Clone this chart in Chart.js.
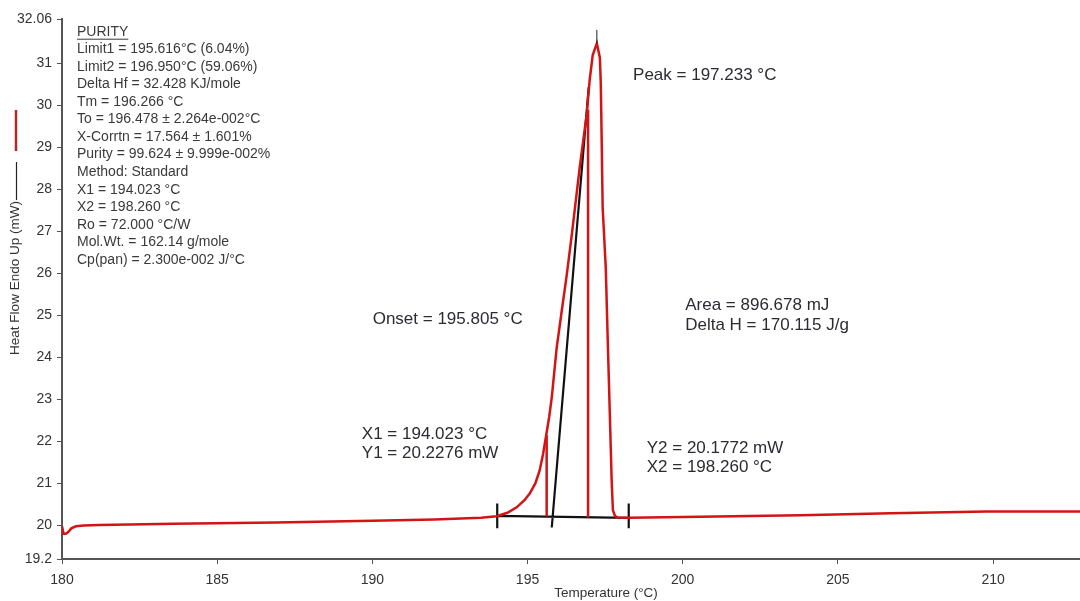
<!DOCTYPE html>
<html>
<head>
<meta charset="utf-8">
<script src="https://cdn.jsdelivr.net/npm/chart.js@4/dist/chart.umd.min.js"></script>
<style>
  html, body { margin: 0; padding: 0; background: #fff; }
  #wrap { width: 1080px; height: 601px; position: relative; }
</style>
</head>
<body>
<div id="wrap"><canvas id="dsc"></canvas></div>
<script>
// DSC melting curve, heat flow (mW) vs temperature (°C)
const temperature = [180.0, 180.05, 180.12, 180.2, 180.3, 180.45, 180.7, 181.2, 183.6, 186.9,
  190.0, 192.0, 193.5, 194.0, 194.35, 194.65, 194.9, 195.07, 195.25, 195.39,
  195.5, 195.59, 195.7, 195.78, 195.94, 196.1, 196.26, 196.43, 196.68, 196.91,
  197.0, 197.1, 197.233, 197.33, 197.36, 197.39, 197.42, 197.52, 197.59, 197.65,
  197.71, 197.75, 197.82, 197.9, 198.26, 200.0, 203.8, 206.7, 209.8, 212.8];
const heatFlow = [19.98, 19.80, 19.80, 19.84, 19.93, 19.98, 20.00, 20.01, 20.04, 20.07,
  20.11, 20.14, 20.18, 20.22, 20.30, 20.43, 20.60, 20.76, 21.00, 21.31,
  21.70, 22.10, 22.60, 23.05, 24.24, 25.10, 25.95, 26.95, 28.52, 29.81,
  30.60, 31.20, 31.48, 31.14, 30.52, 29.10, 27.57, 26.14, 24.24, 22.67,
  21.07, 20.36, 20.22, 20.19, 20.18, 20.20, 20.24, 20.29, 20.33, 20.33];

// integration limits and baseline
const x1 = 194.023, y1 = 20.2276;
const x2 = 198.260, y2 = 20.1772;
const onsetT = 195.805;
const peakT = 197.233;
const limitTemps = [195.616, 196.950];
const limitBase = [20.21, 20.19];
const limitTops = [22.15, 29.9];
const tangentX = [195.78, 196.97];
const tangentY = [19.95, 30.43];
const peakMarkY = [31.48, 31.8];

const xTicks = [180, 185, 190, 195, 200, 205, 210];
const yTicks = [19.2, 20, 21, 22, 23, 24, 25, 26, 27, 28, 29, 30, 31, 32.06];
const yTickLabels = ['19.2', '20', '21', '22', '23', '24', '25', '26', '27', '28', '29', '30', '31', '32.06'];

const purityLines = [
  'PURITY',
  'Limit1 = 195.616°C (6.04%)',
  'Limit2 = 196.950°C (59.06%)',
  'Delta Hf = 32.428 KJ/mole',
  'Tm = 196.266 °C',
  'To = 196.478 ± 2.264e-002°C',
  'X-Corrtn = 17.564 ± 1.601%',
  'Purity = 99.624 ± 9.999e-002%',
  'Method: Standard',
  'X1 = 194.023 °C',
  'X2 = 198.260 °C',
  'Ro = 72.000 °C/W',
  'Mol.Wt. = 162.14 g/mole',
  'Cp(pan) = 2.300e-002 J/°C'
];

// labels placed in data coordinates (left edge, middle)
const notes = [
  { text: 'Peak = 197.233 °C', x: 198.40, y: 30.73 },
  { text: 'Onset = 195.805 °C', x: 190.01, y: 24.90 },
  { text: 'Area = 896.678 mJ', x: 200.08, y: 25.24 },
  { text: 'Delta H = 170.115 J/g', x: 200.08, y: 24.76 },
  { text: 'X1 = 194.023 °C', x: 189.66, y: 22.17 },
  { text: 'Y1 = 20.2276 mW', x: 189.66, y: 21.71 },
  { text: 'Y2 = 20.1772 mW', x: 198.84, y: 21.83 },
  { text: 'X2 = 198.260 °C', x: 198.84, y: 21.38 }
];

const RED = '#d41414';
const FONT = "'Liberation Sans', Arial, sans-serif";

const gap = (x) => ({ x: x, y: null });

const curve = temperature.map((t, i) => ({ x: t, y: heatFlow[i] }));

const limitData = [];
limitTemps.forEach((t, i) => {
  limitData.push({ x: t, y: limitBase[i] }, { x: t, y: limitTops[i] }, gap(t));
});

const blackData = [
  { x: x1, y: y1 }, { x: x2, y: y2 }, gap(x2),
  { x: x1, y: 20.52 }, { x: x1, y: 19.93 }, gap(x1),
  { x: x2, y: 20.52 }, { x: x2, y: 19.93 }, gap(x2),
  { x: tangentX[0], y: tangentY[0] }, { x: tangentX[1], y: tangentY[1] }
];

const peakData = [{ x: peakT, y: peakMarkY[0] }, { x: peakT, y: peakMarkY[1] }];

const textPlugin = {
  id: 'dscText',
  afterDraw(chart) {
    const ctx = chart.ctx;
    const xs = chart.scales.x, ys = chart.scales.y;
    ctx.save();

    // purity block
    ctx.fillStyle = '#3a3a3a';
    ctx.font = '14px ' + FONT;
    ctx.textAlign = 'left';
    ctx.textBaseline = 'middle';
    purityLines.forEach((line, i) => {
      const y = 31.7 + i * 17.56;
      ctx.fillText(line, 77, y);
      if (i === 0) {
        const w = ctx.measureText(line).width;
        ctx.fillRect(77, y + 7, w, 1);
      }
    });

    // peak annotations
    ctx.fillStyle = '#2e2a33';
    ctx.font = '17px ' + FONT;
    notes.forEach(n => {
      ctx.fillText(n.text, xs.getPixelForValue(n.x), ys.getPixelForValue(n.y));
    });

    // axis titles
    ctx.fillStyle = '#333';
    ctx.font = '13.5px ' + FONT;
    ctx.textAlign = 'center';
    ctx.fillText('Temperature (°C)', 606, 593);

    ctx.save();
    ctx.translate(15.5, 278);
    ctx.rotate(-Math.PI / 2);
    ctx.fillText('Heat Flow Endo Up (mW)', 0, 0);
    ctx.restore();

    // series swatches next to the y title
    ctx.strokeStyle = '#b02a2a';
    ctx.lineWidth = 2.5;
    ctx.beginPath();
    ctx.moveTo(16, 110);
    ctx.lineTo(16, 151);
    ctx.stroke();
    ctx.strokeStyle = '#222';
    ctx.lineWidth = 1.2;
    ctx.beginPath();
    ctx.moveTo(16.5, 162);
    ctx.lineTo(16.5, 200);
    ctx.stroke();

    ctx.restore();
  }
};

new Chart(document.getElementById('dsc'), {
  type: 'line',
  data: {
    datasets: [
      {
        label: 'Heat Flow',
        data: curve,
        borderColor: RED,
        borderWidth: 2.5,
        pointRadius: 0,
        tension: 0,
        order: 1
      },
      {
        label: 'Limits',
        data: limitData,
        borderColor: RED,
        borderWidth: 2.5,
        pointRadius: 0,
        spanGaps: false,
        order: 2
      },
      {
        label: 'Baseline',
        data: blackData,
        borderColor: '#111',
        borderWidth: 2.2,
        pointRadius: 0,
        spanGaps: false,
        order: 3
      },
      {
        label: 'Peak',
        data: peakData,
        borderColor: '#222',
        borderWidth: 1,
        pointRadius: 0,
        order: 0
      }
    ]
  },
  options: {
    responsive: true,
    maintainAspectRatio: false,
    animation: false,
    layout: { padding: { top: 19, right: 0, bottom: 0, left: 0 } },
    plugins: {
      legend: { display: false },
      tooltip: { enabled: false }
    },
    scales: {
      x: {
        type: 'linear',
        min: 180,
        max: 212.8,
        afterBuildTicks: (scale) => { scale.ticks = xTicks.map(v => ({ value: v })); },
        afterFit: (scale) => { scale.height = 42; },
        ticks: {
          color: '#333',
          font: { family: FONT, size: 14 },
          padding: 8,
          maxRotation: 0,
          callback: (v) => String(v)
        },
        grid: { drawOnChartArea: false, drawTicks: true, tickLength: 5, color: '#555' },
        border: { color: '#555', width: 2 }
      },
      y: {
        type: 'linear',
        min: 19.2,
        max: 32.06,
        afterBuildTicks: (scale) => { scale.ticks = yTicks.map(v => ({ value: v })); },
        afterFit: (scale) => { scale.width = 62; },
        ticks: {
          color: '#333',
          font: { family: FONT, size: 14 },
          padding: 5,
          callback: (v, i) => yTickLabels[i]
        },
        grid: { drawOnChartArea: false, drawTicks: true, tickLength: 5, color: '#555' },
        border: { color: '#555', width: 2 }
      }
    }
  },
  plugins: [textPlugin]
});
</script>
</body>
</html>
